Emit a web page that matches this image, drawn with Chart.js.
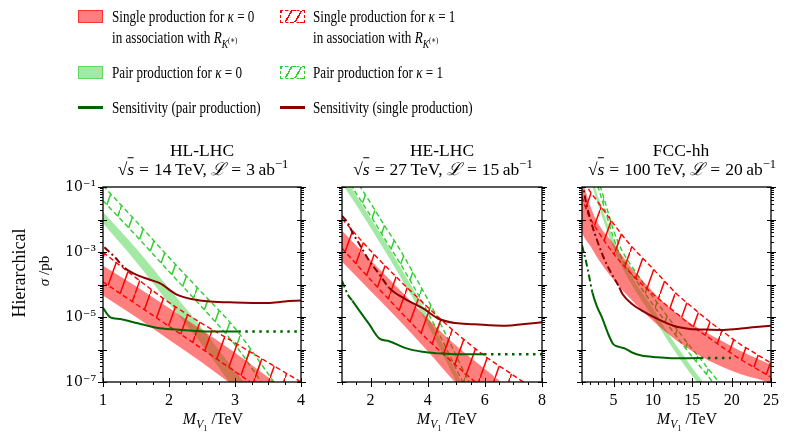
<!DOCTYPE html>
<html>
<head>
<meta charset="utf-8">
<script src="https://cdn.jsdelivr.net/npm/chart.js@4.4.1/dist/chart.umd.min.js"></script>
<style>
  body { margin: 0; width: 788px; height: 432px; overflow: hidden; position: relative; background: #fff;
         font-family: "Liberation Serif", "DejaVu Serif", serif; color: #000; }
  canvas { position: absolute; left: 0; top: 0; }
  .t { position: absolute; white-space: nowrap; line-height: 1; }
  .c { transform: translate(-50%, -50%); }
  .l { transform-origin: 0 50%; transform: translate(0, -50%) scaleX(.75); font-size: 17.5px; }
  .title { font-size: 17.5px; }
  .eq { margin: 0 5px; }
  .sw { position: absolute; width: 25px; height: 13px; box-sizing: border-box; }
  .ln { position: absolute; width: 25px; height: 2.5px; }
  sub, sup { font-size: 72%; line-height: 0; }
  .ov { border-top: 1px solid #000; padding-top: 1px; }
</style>
</head>
<body>
<canvas id="c1" width="788" height="432"></canvas>
<canvas id="c2" width="788" height="432"></canvas>
<canvas id="c3" width="788" height="432"></canvas>

<!-- legend -->
<div class="sw" style="left:78px;top:10px;background:rgba(255,0,0,.5);border:1px solid rgba(255,0,0,.6)"></div>
<div class="t l" style="left:112px;top:17px">Single production for <i>κ</i> = 0</div>
<div class="t l" style="left:112px;top:38px">in association with <i>R</i><sub><i>K</i><sup>(∗)</sup></sub></div>
<div class="sw" style="left:78px;top:66px;background:rgba(50,205,50,.45);border:1px solid rgba(50,205,50,.6)"></div>
<div class="t l" style="left:112px;top:73px">Pair production for <i>κ</i> = 0</div>
<div class="ln" style="left:78px;top:106px;background:#006400"></div>
<div class="t l" style="left:112px;top:108px">Sensitivity (pair production)</div>

<div class="sw" id="swR" style="left:280px;top:10px;border:1.5px dashed #ff0000"></div>
<div class="t l" style="left:313px;top:17px">Single production for <i>κ</i> = 1</div>
<div class="t l" style="left:313px;top:38px">in association with <i>R</i><sub><i>K</i><sup>(∗)</sup></sub></div>
<div class="sw" id="swG" style="left:280px;top:66px;border:1.5px dashed #32cd32"></div>
<div class="t l" style="left:313px;top:73px">Pair production for <i>κ</i> = 1</div>
<div class="ln" style="left:280px;top:106px;background:#8b0000"></div>
<div class="t l" style="left:313px;top:108px">Sensitivity (single production)</div>

<!-- panel titles -->
<div class="t c title" style="left:202px;top:151px">HL-LHC</div>
<div class="t c title" style="left:203px;top:170px">√<span class="ov"><i>s</i></span><span class="eq">=</span>14&thinsp;TeV, <i>ℒ</i><span class="eq">=</span>3&thinsp;ab<sup>−1</sup></div>
<div class="t c title" style="left:442px;top:151px">HE-LHC</div>
<div class="t c title" style="left:443px;top:170px">√<span class="ov"><i>s</i></span><span class="eq">=</span>27&thinsp;TeV, <i>ℒ</i><span class="eq">=</span>15&thinsp;ab<sup>−1</sup></div>
<div class="t c title" style="left:681px;top:151px">FCC-hh</div>
<div class="t c title" style="left:682px;top:170px">√<span class="ov"><i>s</i></span><span class="eq">=</span>100&thinsp;TeV, <i>ℒ</i><span class="eq">=</span>20&thinsp;ab<sup>−1</sup></div>

<!-- axis titles -->
<div class="t c" style="left:19px;top:273px;font-size:18px;transform:translate(-50%,-50%) rotate(-90deg)">Hierarchical</div>
<div class="t c" style="left:44px;top:271px;font-size:15px;transform:translate(-50%,-50%) rotate(-90deg)"><i>σ</i> /pb</div>
<div class="t c" style="left:213px;top:420px;font-size:16px"><i>M</i><sub><i>V</i><sub>1</sub></sub> /TeV</div>
<div class="t c" style="left:447px;top:420px;font-size:16px"><i>M</i><sub><i>V</i><sub>1</sub></sub> /TeV</div>
<div class="t c" style="left:687px;top:420px;font-size:16px"><i>M</i><sub><i>V</i><sub>1</sub></sub> /TeV</div>

<script>
// sigma / pb, masses in TeV

// HL-LHC
const hlPair0Mass = [1, 1.5, 2, 2.5, 3, 3.5];
const hlPair0Hi = [1.7e-2, 1.3e-3, 7.6e-5, 4.5e-6, 2.2e-7, 1.1e-8];
const hlPair0Lo = [7.6e-3, 5.0e-4, 2.6e-5, 1.4e-6, 5.6e-8, 2.2e-9];
const hlPair1Mass = [1, 1.5, 2, 2.5, 3, 3.5, 4];
const hlPair1Hi = [1.1e-1, 8.9e-3, 6.8e-4, 5.6e-5, 4.5e-6, 1.8e-7, 6.3e-9];
const hlPair1Lo = [3.8e-2, 3.2e-3, 2.5e-4, 2.0e-5, 1.4e-6, 5.0e-8, 1.6e-9];
const hlSingleMass = [1, 1.5, 2, 2.5, 3, 3.5, 4];
const hlSingle0Hi = [3.8e-4, 8.9e-5, 1.9e-5, 4.0e-6, 7.9e-7, 1.4e-7, 2.5e-8];
const hlSingle0Lo = [4.6e-5, 1.0e-5, 2.0e-6, 4.0e-7, 7.1e-8, 1.3e-8, 2.2e-9];
const hlSingle1Hi = [9.8e-4, 1.6e-4, 2.8e-5, 6.3e-6, 1.6e-6, 4.0e-7, 1.0e-7];
const hlSingle1Lo = [1.2e-4, 2.5e-5, 5.2e-6, 1.05e-6, 2.1e-7, 4.2e-8, 7.9e-9];
const hlSensSingleMass = [1.02, 1.18, 1.33, 1.46, 1.71, 1.86, 2.11, 2.36, 2.62, 3.0, 3.5, 3.75, 4.0];
const hlSensSingle = [1.4e-3, 6.9e-4, 3.2e-4, 2.2e-4, 1.4e-4, 1.1e-4, 5.0e-5, 3.5e-5, 3.0e-5, 2.8e-5, 2.7e-5, 3.0e-5, 3.2e-5];
const hlSensPairMass = [1, 1.11, 1.26, 1.46, 1.71, 1.86, 2.2, 2.6, 3.05];
const hlSensPair = [1.9e-5, 9.8e-6, 8.7e-6, 6.9e-6, 5.2e-6, 4.5e-6, 4.0e-6, 3.6e-6, 3.6e-6];
const hlReachMass = [3.05, 4];
const hlReach = [3.6e-6, 3.6e-6];

// HE-LHC
const hePair0Mass = [1, 1.5, 2, 2.5, 3, 3.5, 4, 4.5, 5, 5.5];
const hePair0Hi = [2.7e-1, 5.5e-2, 1.1e-2, 2.2e-3, 4.0e-4, 7.1e-5, 1.1e-5, 1.6e-6, 2.0e-7, 2.5e-8];
const hePair0Lo = [1.3e-1, 2.8e-2, 5.6e-3, 1.1e-3, 2.0e-4, 3.5e-5, 5.6e-6, 7.9e-7, 1.0e-7, 1.3e-8];
const hePair1Mass = [1, 1.5, 2, 2.5, 3, 3.5, 4, 4.5, 5, 5.5, 6];
const hePair1Hi = [7.9e-1, 1.6e-1, 3.2e-2, 6.3e-3, 1.3e-3, 2.2e-4, 3.5e-5, 5.0e-6, 6.3e-7, 7.9e-8, 1.0e-8];
const hePair1Lo = [3.2e-1, 6.3e-2, 1.3e-2, 2.5e-3, 5.0e-4, 8.9e-5, 1.4e-5, 2.0e-6, 2.5e-7, 3.2e-8, 4.0e-9];
const heSingle0Mass = [1, 2, 3, 4, 5, 6, 7];
const heSingle0Hi = [4.5e-3, 5.6e-4, 7.1e-5, 8.9e-6, 1.3e-6, 2.5e-7, 5.0e-8];
const heSingle0Lo = [5.0e-4, 6.3e-5, 7.9e-6, 8.9e-7, 8.9e-8, 1.0e-8, 1.0e-9];
const heSingle1Mass = [1, 2, 3, 4, 5, 6, 7, 8];
const heSingle1Hi = [1.05e-2, 1.1e-3, 1.4e-4, 2.0e-5, 3.2e-6, 6.3e-7, 1.6e-7, 4.0e-8];
const heSingle1Lo = [1.3e-3, 1.4e-4, 1.6e-5, 2.0e-6, 3.2e-7, 5.6e-8, 1.1e-8, 2.5e-9];
const heSensSingleMass = [1, 1.19, 1.4, 1.6, 1.95, 2.3, 2.65, 3.23, 3.81, 4.4, 4.98, 5.56, 6.15, 6.73, 7.31, 8];
const heSensSingle = [1.3e-2, 8.1e-3, 3.5e-3, 1.8e-3, 5.4e-4, 2.1e-4, 7.9e-5, 3.5e-5, 1.9e-5, 8.7e-6, 6.5e-6, 6.0e-6, 5.6e-6, 5.4e-6, 6.0e-6, 6.9e-6];
const heSensPairMass = [1, 1.2, 1.36, 1.6, 1.95, 2.3, 2.65, 3.23, 3.81, 4.4, 4.98, 5.97];
const heSensPair = [1.3e-4, 5.0e-5, 3.2e-5, 1.6e-5, 6.0e-6, 2.2e-6, 1.8e-6, 1.1e-6, 8.5e-7, 7.6e-7, 7.1e-7, 7.1e-7];
const heReachMass = [5.97, 8];
const heReach = [7.1e-7, 7.1e-7];

// FCC-hh
const fcPair0Mass = [2, 2.5, 3, 4, 5, 6, 8, 10, 12, 14, 16, 17];
const fcPair0Hi = [3.4e-1, 1.3e-1, 5.4e-2, 1.1e-2, 2.4e-3, 6.8e-4, 9.5e-5, 1.9e-5, 3.0e-6, 6.0e-7, 1.3e-7, 6.8e-8];
const fcPair0Lo = [1.9e-1, 7.4e-2, 3.0e-2, 5.9e-3, 1.3e-3, 3.7e-4, 5.2e-5, 1.0e-5, 1.7e-6, 3.3e-7, 7.4e-8, 3.7e-8];
const fcPair1Mass = [3, 4, 5, 6, 8, 10, 12, 14, 16, 18, 19];
const fcPair1Hi = [1.9e-1, 3.0e-2, 4.7e-3, 1.2e-3, 2.1e-4, 4.2e-5, 9.3e-6, 2.1e-6, 5.2e-7, 1.3e-7, 6.6e-8];
const fcPair1Lo = [1.1e-1, 1.7e-2, 2.7e-3, 6.8e-4, 1.2e-4, 2.4e-5, 5.4e-6, 1.2e-6, 3.0e-7, 7.6e-8, 3.8e-8];
const fcSingle0Mass = [1, 1.3, 2, 3, 5, 7, 9, 11, 13, 15, 17, 19, 21, 23, 25];
const fcSingle0Hi = [1.6e-1, 1.0e-1, 2.8e-2, 7.9e-3, 1.8e-3, 4.0e-4, 1.1e-4, 3.4e-5, 1.3e-5, 5.9e-6, 3.1e-6, 1.7e-6, 9.3e-7, 5.6e-7, 3.4e-7];
const fcSingle0Lo = [4.0e-3, 2.8e-3, 1.6e-3, 6.3e-4, 1.4e-4, 4.0e-5, 1.3e-5, 4.7e-6, 1.9e-6, 8.9e-7, 4.7e-7, 2.8e-7, 1.8e-7, 1.3e-7, 9.3e-8];
const fcSingle1Mass = [1, 1.7, 3, 5, 7, 9, 11, 13, 15, 17, 19, 21, 23, 25];
const fcSingle1Hi = [2.5e-1, 1.0e-1, 3.5e-2, 7.4e-3, 1.8e-3, 5.5e-4, 1.7e-4, 5.2e-5, 2.0e-5, 7.9e-6, 3.4e-6, 1.5e-6, 7.6e-7, 3.8e-7];
const fcSingle1Lo = [5.0e-2, 1.6e-2, 4.5e-3, 8.9e-4, 2.5e-4, 8.3e-5, 3.2e-5, 1.3e-5, 5.2e-6, 2.4e-6, 1.1e-6, 5.2e-7, 2.7e-7, 1.4e-7];
const fcSensSingleMass = [1.1, 1.24, 2.12, 3.0, 3.73, 4.53, 5.74, 6.14, 7.35, 8.55, 10.6, 12.6, 14.7, 16.7, 18.7, 20.7, 22.7, 25];
const fcSensSingle = [1.6e-1, 7.8e-2, 9.1e-3, 2.0e-3, 6.9e-4, 2.7e-4, 8.1e-5, 5.1e-5, 2.5e-5, 1.6e-5, 8.7e-6, 5.4e-6, 4.3e-6, 4.1e-6, 4.0e-6, 4.3e-6, 4.8e-6, 5.4e-6];
const fcSensPairMass = [1, 1.52, 1.92, 2.33, 2.93, 3.53, 4.33, 4.94, 5.74, 6.54, 7.35, 8.55, 10.6, 12.6, 14.6, 16.1];
const fcSensPair = [1.6e-3, 5.0e-4, 1.7e-4, 5.6e-5, 2.0e-5, 9.8e-6, 3.0e-6, 1.5e-6, 1.2e-6, 1.05e-6, 8.1e-7, 6.5e-7, 5.8e-7, 5.4e-7, 5.4e-7, 5.5e-7];
const fcReachMass = [16.1, 19.9];
const fcReach = [5.5e-7, 5.5e-7];

// axis ticks
const sigmaTicks = [1e-7, 1e-6, 1e-5, 1e-4, 1e-3, 1e-2, 1e-1];
const sigmaLabels = ['10⁻⁷', '', '10⁻⁵', '', '10⁻³', '', '10⁻¹'];
const hlTicks = [1, 2, 3, 4];
const heTicks = [2, 4, 6, 8];
const fcTicks = [5, 10, 15, 20, 25];

const RED_FILL = 'rgba(255,0,0,0.5)';
const GREEN_FILL = 'rgba(50,205,50,0.45)';

function hatch(color) {
    let c = document.createElement('canvas');
    c.width = 15; c.height = 42;
    let g = c.getContext('2d');
    g.strokeStyle = color;
    g.lineWidth = 1.5;
    g.beginPath();
    g.moveTo(-1, 44.8);
    g.lineTo(16, -2.8);
    g.stroke();
    return g.createPattern(c, 'repeat');
}
const redHatch = hatch('#ff0000');
const greenHatch = hatch('#32cd32');

// legend swatches get a sparse hatch too
function swatchHatch(id, color) {
    let el = document.getElementById(id);
    el.style.background = 'repeating-linear-gradient(-60deg, transparent 0 7px, ' + color + ' 7px 8.5px)';
}
swatchHatch('swR', '#ff0000');
swatchHatch('swG', '#32cd32');

function pts(xs, ys) {
    return xs.map((x, i) => ({ x: x, y: ys[i] }));
}

function solidBand(xs, hi, lo, color, order) {
    return [
        { data: pts(xs, hi), borderColor: 'transparent', borderWidth: 0, backgroundColor: color, fill: '+1', order: order },
        { data: pts(xs, lo), borderColor: 'transparent', borderWidth: 0, fill: false, order: order }
    ];
}

function hatchBand(xs, hi, lo, color, pattern, order) {
    return [
        { data: pts(xs, hi), borderColor: color, borderWidth: 1.4, borderDash: [5, 3], backgroundColor: pattern, fill: '+1', order: order },
        { data: pts(xs, lo), borderColor: color, borderWidth: 1.4, borderDash: [5, 3], fill: false, order: order }
    ];
}

function sensLine(xs, ys, color, dashUntil) {
    return {
        data: pts(xs, ys), borderColor: color, borderWidth: 2, fill: false, order: 0,
        segment: { borderDash: ctx => ctx.p1.parsed.x <= dashUntil ? [7, 3, 2, 3] : undefined }
    };
}

// ticks drawn by hand: boxed frame, ticks sticking out like the original
const frame = {
    id: 'frame',
    afterDraw(chart, args, opts) {
        let ctx = chart.ctx;
        let a = chart.chartArea;
        let x = chart.scales.x, y = chart.scales.y;
        ctx.save();
        ctx.strokeStyle = '#000';
        ctx.lineWidth = 1;
        ctx.beginPath();
        for (let d = 0; d < sigmaTicks.length; d++) {
            for (let m = 1; m < 10; m++) {
                let v = sigmaTicks[d] * m;
                if (v > 0.1001) break;
                let py = Math.round(y.getPixelForValue(v)) + 0.5;
                if (m === 1) {
                    ctx.moveTo(a.left - 5, py); ctx.lineTo(a.left + 4, py);
                    ctx.moveTo(a.right - 4, py); ctx.lineTo(a.right + 5, py);
                } else {
                    ctx.moveTo(a.left - 3, py); ctx.lineTo(a.left, py);
                    ctx.moveTo(a.right, py); ctx.lineTo(a.right + 3, py);
                }
            }
        }
        for (let v = x.min; v <= x.max + 1e-9; v += opts.minor) {
            let px = Math.round(x.getPixelForValue(v)) + 0.5;
            let major = opts.ticks.indexOf(Math.round(v * 100) / 100) >= 0;
            ctx.moveTo(px, a.bottom + (major ? 5 : 3));
            ctx.lineTo(px, a.bottom - (major ? 4 : 0));
        }
        ctx.stroke();
        ctx.lineWidth = 1.3;
        ctx.strokeRect(a.left, a.top, a.right - a.left, a.bottom - a.top);
        ctx.restore();
    }
};

const TOP = 187, BOTTOM = 382, XH = 32, YW = 63;

function makePanel(id, left, right, xmin, xmax, ticks, minor, showY, d) {
    let datasets = [
        sensLine(d.sensSingleMass, d.sensSingle, '#8b0000', d.dashSingle),
        sensLine(d.sensPairMass, d.sensPair, '#006400', d.dashPair),
        { data: pts(d.reachMass, d.reach), borderColor: '#006400', borderWidth: 2.5, borderDash: [2.5, 4.5], fill: false, order: 0 }
    ];
    datasets = datasets.concat(
        hatchBand(d.single1Mass, d.single1Hi, d.single1Lo, '#ff0000', redHatch, 1),
        solidBand(d.single0Mass, d.single0Hi, d.single0Lo, RED_FILL, 2),
        hatchBand(d.pair1Mass, d.pair1Hi, d.pair1Lo, '#32cd32', greenHatch, 3),
        solidBand(d.pair0Mass, d.pair0Hi, d.pair0Lo, GREEN_FILL, 4)
    );
    datasets.forEach(ds => { ds.pointRadius = 0; ds.cubicInterpolationMode = 'monotone'; });

    return new Chart(document.getElementById(id), {
        type: 'line',
        data: { datasets: datasets },
        options: {
            responsive: false,
            animation: false,
            events: [],
            layout: {
                autoPadding: false,
                padding: { left: showY ? left - YW : left, right: 788 - right, top: TOP, bottom: 432 - BOTTOM - XH }
            },
            plugins: { legend: { display: false }, tooltip: { enabled: false }, frame: { ticks: ticks, minor: minor } },
            scales: {
                x: {
                    type: 'linear', min: xmin, max: xmax,
                    grid: { display: false, drawTicks: false },
                    border: { display: false },
                    afterBuildTicks: s => { s.ticks = ticks.map(v => ({ value: v })); },
                    afterFit: s => { s.height = XH; },
                    ticks: { color: '#000', padding: 9, font: { family: 'Liberation Serif', size: 16 }, maxRotation: 0, autoSkip: false }
                },
                y: {
                    type: 'logarithmic', min: 1e-7, max: 1e-1,
                    grid: { display: false, drawTicks: false },
                    border: { display: false },
                    afterBuildTicks: s => { s.ticks = sigmaTicks.map(v => ({ value: v })); },
                    afterFit: s => { s.width = showY ? YW : 0; },
                    ticks: {
                        display: showY, color: '#000', padding: 7, autoSkip: false,
                        font: { family: 'DejaVu Serif', size: 14 },
                        callback: (v, i) => sigmaLabels[i]
                    }
                }
            }
        },
        plugins: [frame]
    });
}

makePanel('c1', 103, 301, 1, 4, hlTicks, 0.25, true, {
    pair0Mass: hlPair0Mass, pair0Hi: hlPair0Hi, pair0Lo: hlPair0Lo,
    pair1Mass: hlPair1Mass, pair1Hi: hlPair1Hi, pair1Lo: hlPair1Lo,
    single0Mass: hlSingleMass, single0Hi: hlSingle0Hi, single0Lo: hlSingle0Lo,
    single1Mass: hlSingleMass, single1Hi: hlSingle1Hi, single1Lo: hlSingle1Lo,
    sensSingleMass: hlSensSingleMass, sensSingle: hlSensSingle, dashSingle: 1.33,
    sensPairMass: hlSensPairMass, sensPair: hlSensPair, dashPair: 0,
    reachMass: hlReachMass, reach: hlReach
});

makePanel('c2', 342, 542, 1, 8, heTicks, 0.5, false, {
    pair0Mass: hePair0Mass, pair0Hi: hePair0Hi, pair0Lo: hePair0Lo,
    pair1Mass: hePair1Mass, pair1Hi: hePair1Hi, pair1Lo: hePair1Lo,
    single0Mass: heSingle0Mass, single0Hi: heSingle0Hi, single0Lo: heSingle0Lo,
    single1Mass: heSingle1Mass, single1Hi: heSingle1Hi, single1Lo: heSingle1Lo,
    sensSingleMass: heSensSingleMass, sensSingle: heSensSingle, dashSingle: 2.65,
    sensPairMass: heSensPairMass, sensPair: heSensPair, dashPair: 1.36,
    reachMass: heReachMass, reach: heReach
});

makePanel('c3', 582, 781, 1, 25, fcTicks, 1, false, {
    pair0Mass: fcPair0Mass, pair0Hi: fcPair0Hi, pair0Lo: fcPair0Lo,
    pair1Mass: fcPair1Mass, pair1Hi: fcPair1Hi, pair1Lo: fcPair1Lo,
    single0Mass: fcSingle0Mass, single0Hi: fcSingle0Hi, single0Lo: fcSingle0Lo,
    single1Mass: fcSingle1Mass, single1Hi: fcSingle1Hi, single1Lo: fcSingle1Lo,
    sensSingleMass: fcSensSingleMass, sensSingle: fcSensSingle, dashSingle: 5.74,
    sensPairMass: fcSensPairMass, sensPair: fcSensPair, dashPair: 2.33,
    reachMass: fcReachMass, reach: fcReach
});
</script>
</body>
</html>
